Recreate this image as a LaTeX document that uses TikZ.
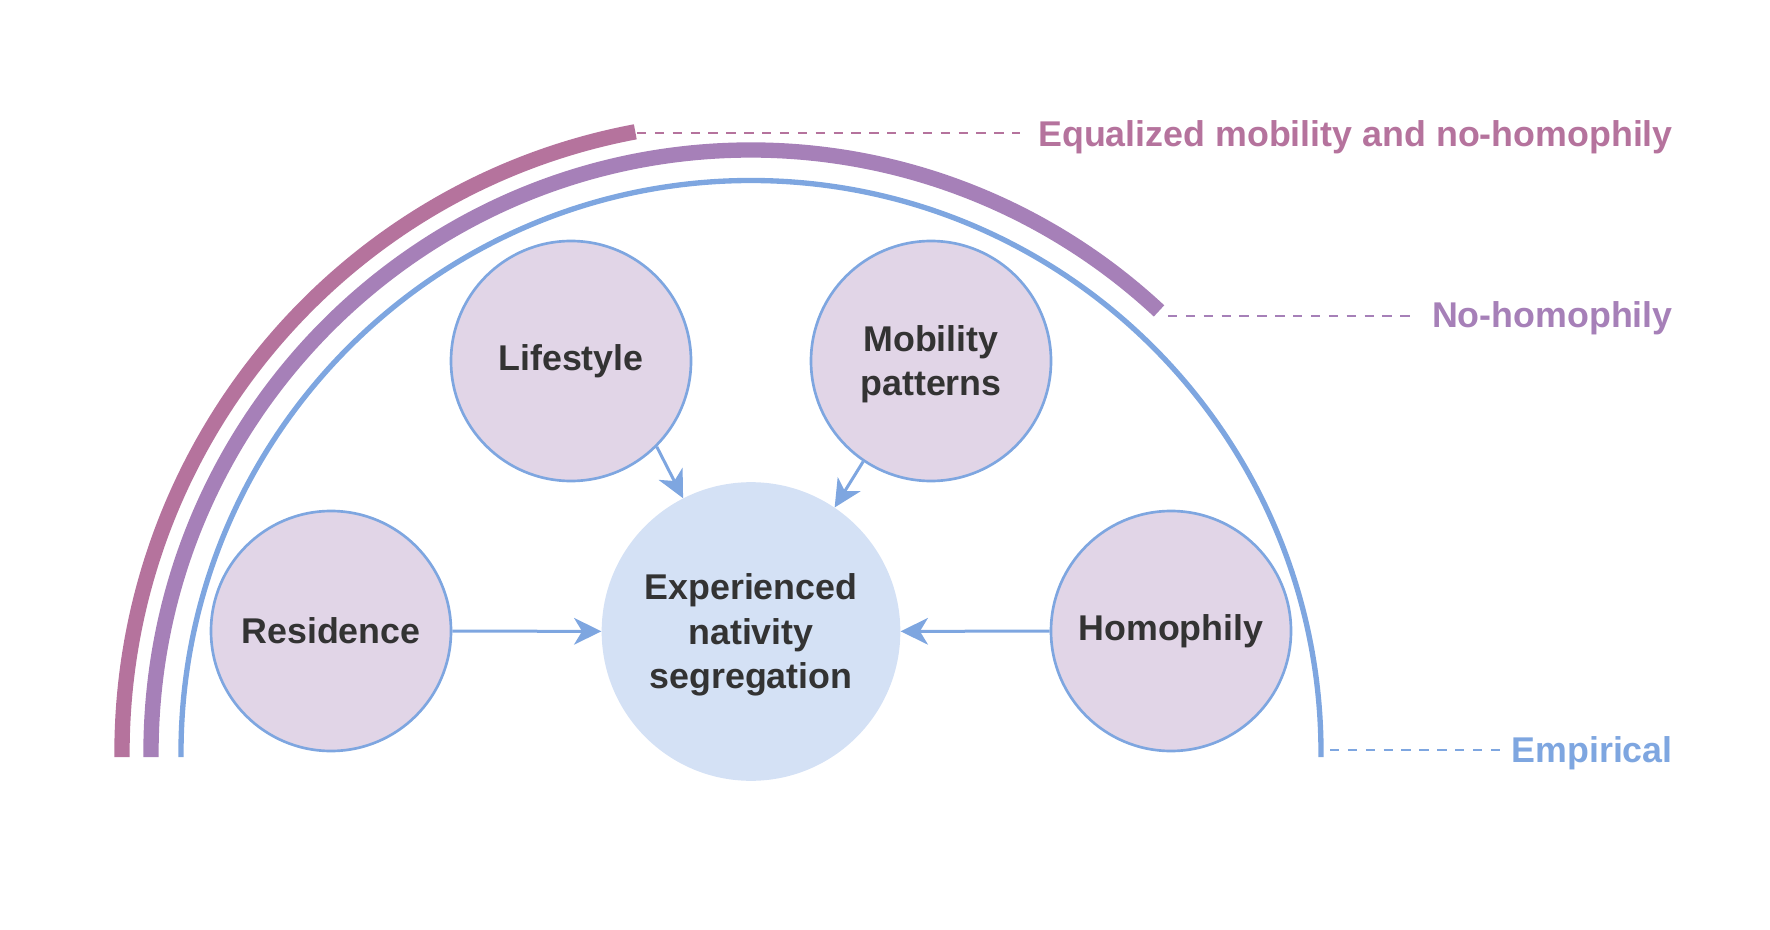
\documentclass[tikz,border=0pt]{standalone}
\usepackage{fontspec}
\setmainfont{Liberation Sans}
\usepackage{tikz}
\usetikzlibrary{arrows.meta}

\definecolor{cMag}{HTML}{B5739D}
\definecolor{cPur}{HTML}{A680B8}
\definecolor{cBlu}{HTML}{7EA6E0}
\definecolor{cFill}{HTML}{E1D5E7}
\definecolor{cCore}{HTML}{D4E1F5}
\definecolor{cText}{HTML}{333333}

\newcommand{\firstln}{\rule{0pt}{24.6pt}}

\begin{document}
\begin{tikzpicture}[x=0.75pt,y=0.75pt,yscale=-1,xscale=1,
  factor/.style={circle, draw=cBlu, line width=2pt, fill=cFill, minimum size=180pt, inner sep=0pt,
    text=cText, font=\bfseries\fontsize{26.85}{33.4}\selectfont, align=center},
  core/.style={circle, fill=cCore, minimum size=224pt, inner sep=0pt,
    text=cText, font=\bfseries\fontsize{26.85}{33.4}\selectfont, align=center},
  flow/.style={cBlu, line width=2.25pt, -{Stealth[length=20.5pt, width=20pt, inset=6pt]}},
  guide/.style={line width=1.8pt, dash pattern={on 7pt off 6.4pt}},
  lbl/.style={font=\bfseries\fontsize{26.85}{33}\selectfont, inner sep=0pt, anchor=base east}]
%set diagram to 1770 x 930
\path[use as bounding box] (0,0) rectangle (1770,930);

%Shape: Arc (equalized)
\draw[cMag, line width=11.5pt] (122,757) -- (122,753) arc[start angle=180, end angle=259.4, x radius=629, y radius=632];
%Shape: Arc (no-homophily)
\draw[cPur, line width=11.5pt] (151,757) -- (151,753) arc[start angle=180, end angle=312.85, x radius=600, y radius=603];
%Shape: Arc (empirical)
\draw[cBlu, line width=4pt] (181,757) -- (181,753) arc[start angle=180, end angle=360, x radius=570, y radius=572.5] -- (1321,757);

%Shape: Circles
\node[core] (core) at (751,631.5) {\firstln Experienced\\nativity\\segregation};
\node[factor] (life) at (571,361) {Lifestyle};
\node[factor] (mob) at (931,361) {\firstln Mobility\\patterns};
\node[factor] (res) at (331,631) {Residence};
\node[factor] (hom) at (1171,631) {Homophily};

%Straight Lines
\draw[flow] (res) -- (core);
\draw[flow] (hom) -- (core);
\draw[flow] (life.-45) -- (core.117);
\draw[flow] (mob.236) -- (core.56);

%Text
\node[lbl, text=cMag] (lblEq) at (1673,147) {Equalized mobility and no-homophily};
\node[lbl, text=cPur] (lblNo) at (1673,328) {No-homophily};
\node[lbl, text=cBlu] (lblEmp) at (1673,762) {Empirical};

%Dashed Lines
\coordinate (eqTip) at (637,133);
\coordinate (noTip) at (1168,316);
\coordinate (empTip) at (1330,750);
\draw[guide, cMag, shorten >=13.5pt] (eqTip) -- (eqTip -| lblEq.west);
\draw[guide, cPur, shorten >=13.5pt] (noTip) -- (noTip -| lblNo.west);
\draw[guide, cBlu, shorten >=6.4pt] (empTip) -- (empTip -| lblEmp.west);

\end{tikzpicture}
\end{document}
